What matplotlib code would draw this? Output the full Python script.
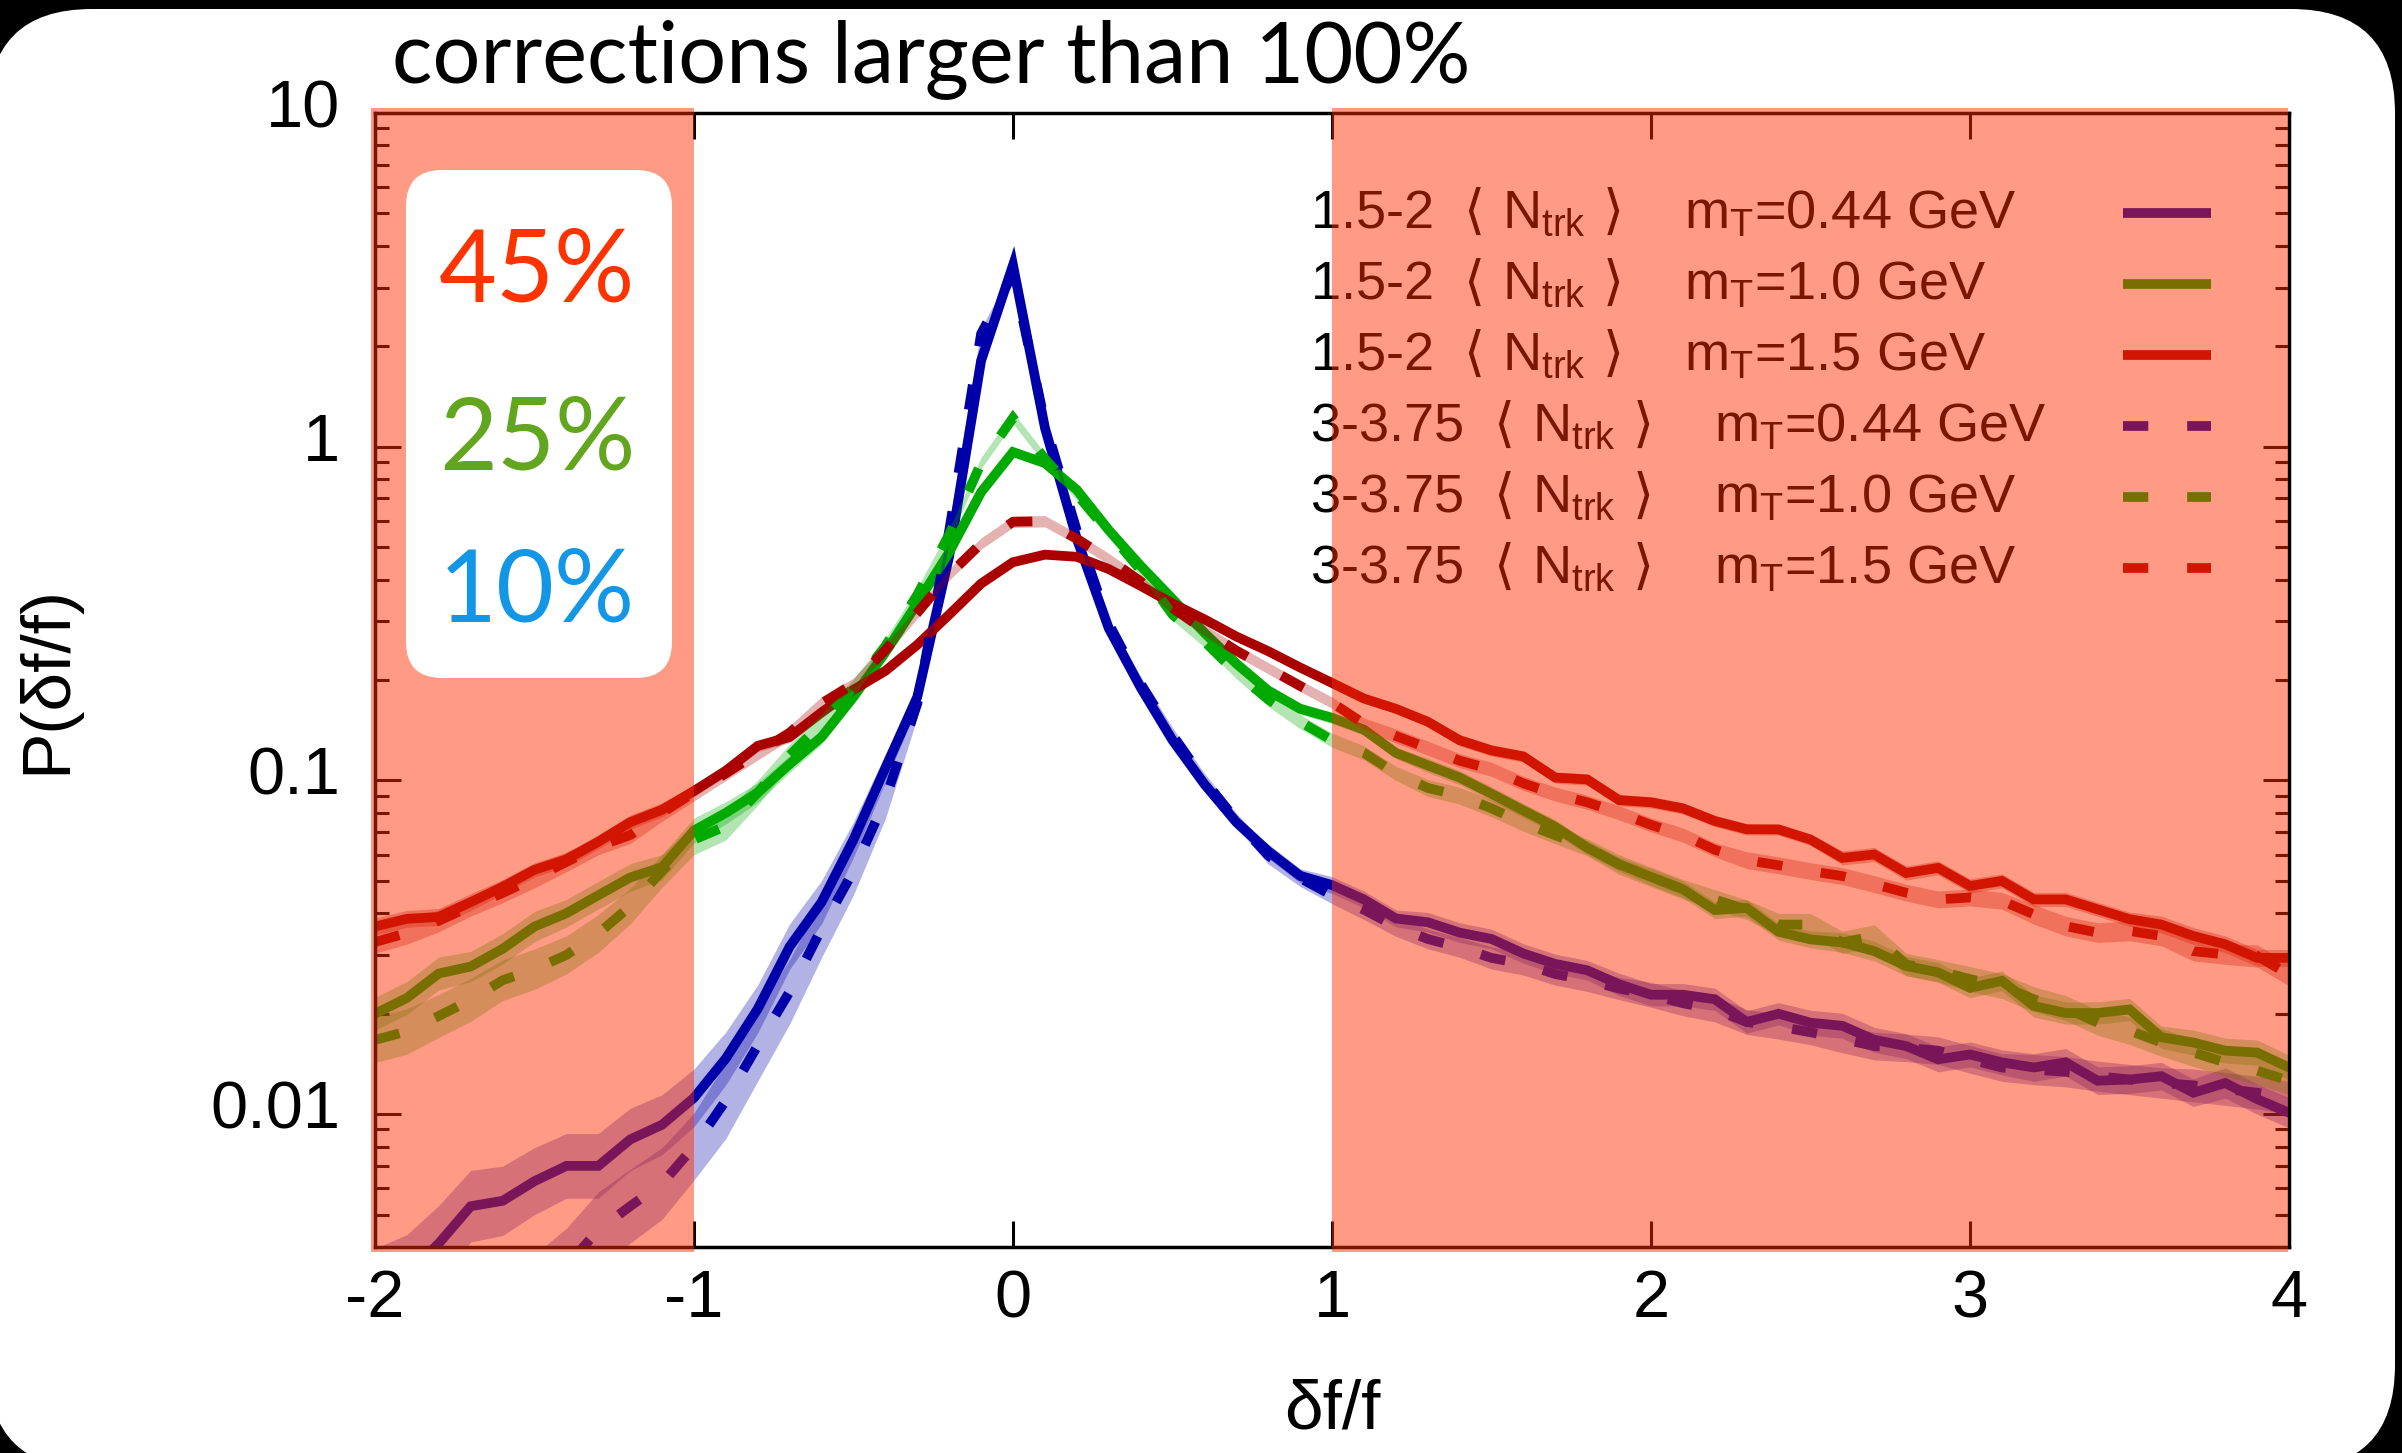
import numpy as np
import matplotlib
matplotlib.use("Agg")
import matplotlib.pyplot as plt
from matplotlib.patches import FancyBboxPatch, Rectangle
from matplotlib.lines import Line2D
from matplotlib.transforms import IdentityTransform, ScaledTranslation
from matplotlib.ticker import FixedLocator, FixedFormatter, LogLocator, NullFormatter

plt.rcParams["font.family"] = ["Liberation Sans", "DejaVu Sans"]
plt.rcParams["mathtext.default"] = "regular"
plt.rcParams["axes.unicode_minus"] = False

# bin centres of delta f / f
dff = np.round(np.linspace(-2.0, 4.0, 61), 2)

# ---- P(df/f), 1.5-2 <N_trk> ----
low_044 = [0.0030, 0.0033, 0.0041, 0.0053, 0.0055, 0.0063, 0.0070, 0.0070, 0.0084, 0.0093,
           0.0112, 0.0147, 0.0207, 0.0318, 0.0432, 0.0665, 0.109, 0.178, 0.47, 1.81,
           3.5, 1.14, 0.53, 0.286, 0.19, 0.132, 0.0975, 0.075, 0.0614, 0.0518,
           0.0486, 0.044, 0.0386, 0.0376, 0.035, 0.0335, 0.0303, 0.0282, 0.027, 0.0245,
           0.0228, 0.0228, 0.0221, 0.0189, 0.0200, 0.0188, 0.0184, 0.0167, 0.0160, 0.0146,
           0.0151, 0.0143, 0.0138, 0.0143, 0.0126, 0.0127, 0.0130, 0.0116, 0.0124, 0.0111,
           0.0101]
low_100 = [0.0200, 0.0223, 0.0264, 0.0277, 0.0313, 0.0365, 0.0400, 0.0453, 0.0512, 0.0550,
           0.0708, 0.0800, 0.0920, 0.112, 0.135, 0.178, 0.242, 0.34, 0.483, 0.731,
           0.964, 0.893, 0.743, 0.563, 0.44, 0.35, 0.277, 0.224, 0.186, 0.164,
           0.154, 0.142, 0.121, 0.111, 0.102, 0.0912, 0.0813, 0.0726, 0.0629, 0.0561,
           0.0514, 0.0472, 0.0409, 0.0415, 0.0352, 0.0334, 0.0327, 0.0308, 0.0278, 0.0266,
           0.0239, 0.0251, 0.0211, 0.0201, 0.0201, 0.0206, 0.0170, 0.0164, 0.0155, 0.0153,
           0.0138]
low_150 = [0.0365, 0.0385, 0.0390, 0.0432, 0.0480, 0.0540, 0.0580, 0.0655, 0.0750, 0.0817,
           0.0930, 0.107, 0.127, 0.135, 0.160, 0.187, 0.213, 0.255, 0.314, 0.389,
           0.451, 0.475, 0.468, 0.430, 0.383, 0.339, 0.304, 0.270, 0.244, 0.218,
           0.196, 0.176, 0.164, 0.150, 0.132, 0.123, 0.118, 0.102, 0.1007, 0.0873,
           0.0860, 0.0825, 0.0756, 0.0714, 0.0713, 0.0665, 0.0586, 0.0600, 0.0528, 0.0547,
           0.0483, 0.0500, 0.0440, 0.0440, 0.0411, 0.0384, 0.0370, 0.0342, 0.0323, 0.0294,
           0.0294]

# ---- P(df/f), 3-3.75 <N_trk> ----
high_044 = [0.0012, 0.0014, 0.0017, 0.0020, 0.0024, 0.0029, 0.0035, 0.0045, 0.0053, 0.0062,
            0.0080, 0.0110, 0.0161, 0.0233, 0.036, 0.0536, 0.0877, 0.17, 0.56, 2.18,
            3.3, 1.18, 0.56, 0.295, 0.195, 0.137, 0.100, 0.076, 0.0596, 0.051,
            0.0453, 0.041, 0.0365, 0.0335, 0.0316, 0.0294, 0.0282, 0.0263, 0.0252, 0.0238,
            0.0228, 0.0215, 0.0206, 0.0189, 0.0183, 0.0176, 0.0168, 0.0160, 0.0158, 0.0155,
            0.0146, 0.0138, 0.0136, 0.0134, 0.0130, 0.0127, 0.0124, 0.0122, 0.0119, 0.0116,
            0.0112]
high_100 = [0.0167, 0.0177, 0.0197, 0.0220, 0.0252, 0.0272, 0.0300, 0.0348, 0.0420, 0.0536,
            0.0665, 0.0730, 0.0920, 0.119, 0.148, 0.190, 0.253, 0.36, 0.546, 0.893,
            1.22, 0.92, 0.72, 0.554, 0.427, 0.314, 0.261, 0.210, 0.175, 0.150,
            0.132, 0.121, 0.105, 0.095, 0.090, 0.0825, 0.0746, 0.0685, 0.063, 0.056,
            0.0514, 0.0472, 0.044, 0.041, 0.0370, 0.0370, 0.0327, 0.0342, 0.0281, 0.0269,
            0.0254, 0.0242, 0.0221, 0.0208, 0.0188, 0.0178, 0.0164, 0.0153, 0.0143, 0.0135,
            0.0126]
high_150 = [0.0328, 0.0349, 0.0380, 0.0420, 0.0460, 0.0510, 0.0570, 0.0635, 0.0686, 0.0800,
            0.0920, 0.105, 0.121, 0.139, 0.170, 0.195, 0.246, 0.318, 0.414, 0.513,
            0.596, 0.598, 0.530, 0.461, 0.395, 0.329, 0.282, 0.245, 0.217, 0.192,
            0.171, 0.148, 0.136, 0.125, 0.1146, 0.108, 0.098, 0.091, 0.086, 0.080,
            0.0736, 0.0686, 0.0620, 0.0577, 0.0557, 0.0535, 0.0517, 0.0489, 0.0461, 0.0440,
            0.0446, 0.0436, 0.0397, 0.0366, 0.0350, 0.0354, 0.0342, 0.0308, 0.0301, 0.0298,
            0.0262]

# ---- relative uncertainties (half width of the bands) ----
low_044_err = [0.32, 0.32, 0.30, 0.28, 0.27, 0.26, 0.25, 0.25, 0.24, 0.23,
               0.22, 0.20, 0.18, 0.17, 0.16, 0.13, 0.10, 0.07, 0.05, 0.04,
               0.03, 0.04, 0.04, 0.04, 0.04, 0.04, 0.05, 0.05, 0.05, 0.05,
               0.06, 0.06, 0.06, 0.07, 0.07, 0.07, 0.07, 0.07, 0.07, 0.08,
               0.08, 0.08, 0.08, 0.08, 0.08, 0.09, 0.09, 0.09, 0.09, 0.09,
               0.09, 0.09, 0.10, 0.10, 0.10, 0.10, 0.10, 0.10, 0.11, 0.11,
               0.11]
low_100_err = [0.12, 0.12, 0.12, 0.11, 0.11, 0.11, 0.10, 0.10, 0.10, 0.09,
               0.09, 0.08, 0.07, 0.06, 0.05, 0.05, 0.04, 0.04, 0.03, 0.03,
               0.03, 0.03, 0.03, 0.03, 0.03, 0.03, 0.03, 0.03, 0.04, 0.04,
               0.04, 0.04, 0.04, 0.05, 0.05, 0.05, 0.05, 0.05, 0.05, 0.05,
               0.06, 0.06, 0.06, 0.06, 0.06, 0.06, 0.07, 0.07, 0.07, 0.07,
               0.07, 0.07, 0.08, 0.08, 0.08, 0.08, 0.08, 0.09, 0.09, 0.09,
               0.09]
low_150_err = [0.06, 0.06, 0.06, 0.06, 0.05, 0.05, 0.05, 0.05, 0.05, 0.05,
               0.04, 0.04, 0.04, 0.04, 0.04, 0.03, 0.03, 0.03, 0.03, 0.03,
               0.03, 0.03, 0.03, 0.03, 0.03, 0.03, 0.03, 0.03, 0.03, 0.03,
               0.03, 0.03, 0.03, 0.03, 0.04, 0.04, 0.04, 0.04, 0.04, 0.04,
               0.04, 0.04, 0.04, 0.04, 0.04, 0.04, 0.05, 0.05, 0.05, 0.05,
               0.05, 0.05, 0.05, 0.05, 0.05, 0.05, 0.06, 0.06, 0.06, 0.06,
               0.06]
high_044_err = [0.35, 0.35, 0.34, 0.33, 0.32, 0.31, 0.30, 0.30, 0.29, 0.28,
                0.26, 0.30, 0.28, 0.25, 0.22, 0.18, 0.14, 0.10, 0.06, 0.04,
                0.03, 0.04, 0.04, 0.04, 0.05, 0.05, 0.05, 0.05, 0.06, 0.06,
                0.06, 0.07, 0.07, 0.07, 0.07, 0.08, 0.08, 0.08, 0.08, 0.08,
                0.09, 0.09, 0.09, 0.09, 0.09, 0.09, 0.10, 0.10, 0.10, 0.10,
                0.10, 0.10, 0.11, 0.11, 0.11, 0.11, 0.11, 0.12, 0.12, 0.12,
                0.12]
high_100_err = [0.17, 0.17, 0.16, 0.16, 0.15, 0.15, 0.14, 0.14, 0.13, 0.12,
                0.11, 0.10, 0.09, 0.08, 0.07, 0.06, 0.05, 0.05, 0.04, 0.04,
                0.04, 0.04, 0.04, 0.04, 0.04, 0.04, 0.04, 0.04, 0.05, 0.05,
                0.05, 0.05, 0.05, 0.06, 0.06, 0.06, 0.06, 0.06, 0.06, 0.07,
                0.07, 0.07, 0.07, 0.07, 0.08, 0.08, 0.08, 0.08, 0.08, 0.08,
                0.09, 0.09, 0.09, 0.09, 0.09, 0.10, 0.10, 0.10, 0.10, 0.10,
                0.10]
high_150_err = [0.08, 0.08, 0.08, 0.07, 0.07, 0.07, 0.07, 0.06, 0.06, 0.06,
                0.06, 0.05, 0.05, 0.05, 0.05, 0.04, 0.04, 0.04, 0.04, 0.04,
                0.04, 0.04, 0.04, 0.04, 0.04, 0.04, 0.04, 0.04, 0.04, 0.04,
                0.04, 0.04, 0.05, 0.05, 0.05, 0.05, 0.05, 0.05, 0.05, 0.05,
                0.05, 0.05, 0.05, 0.06, 0.06, 0.06, 0.06, 0.06, 0.06, 0.06,
                0.06, 0.06, 0.07, 0.07, 0.07, 0.07, 0.07, 0.07, 0.07, 0.08,
                0.08]

legend_labels = [
    r"1.5-2  $\left\langle\ N_{trk}\ \right\rangle$    m$_{T}$=0.44 GeV",
    r"1.5-2  $\left\langle\ N_{trk}\ \right\rangle$    m$_{T}$=1.0 GeV",
    r"1.5-2  $\left\langle\ N_{trk}\ \right\rangle$    m$_{T}$=1.5 GeV",
    r"3-3.75  $\left\langle\ N_{trk}\ \right\rangle$    m$_{T}$=0.44 GeV",
    r"3-3.75  $\left\langle\ N_{trk}\ \right\rangle$    m$_{T}$=1.0 GeV",
    r"3-3.75  $\left\langle\ N_{trk}\ \right\rangle$    m$_{T}$=1.5 GeV",
]
x_ticks = [-2, -1, 0, 1, 2, 3, 4]
x_ticklabels = ["-2", "-1", "0", "1", "2", "3", "4"]
y_ticks = [0.01, 0.1, 1, 10]
y_ticklabels = ["0.01", "0.1", "1", "10"]
flag_values = ["45%", "25%", "10%"]
flag_colors = ["#FF3300", "#62A51E", "#1496E6"]

BLUE, GREEN, DRED = "#0000AA", "#00AA00", "#AA0000"
LW = 7.0
DASH = (2.6, 4.0)

series = [
    (low_044, low_044_err, BLUE, False),
    (low_100, low_100_err, GREEN, False),
    (low_150, low_150_err, DRED, False),
    (high_044, high_044_err, BLUE, True),
    (high_100, high_100_err, GREEN, True),
    (high_150, high_150_err, DRED, True),
]

fig = plt.figure(figsize=(24.02, 14.53), dpi=100, facecolor="black")

# white rounded panel behind everything
panel = FancyBboxPatch((-12, -16), 2407, 1460,
                       boxstyle="round,pad=0,rounding_size=104",
                       transform=IdentityTransform(), facecolor="white",
                       edgecolor="none", zorder=-10)
fig.add_artist(panel)

ax = fig.add_axes([375 / 2402, 1 - 1247 / 1453, 1914 / 2402, 1134 / 1453])
ax.set_facecolor("white")
ax.set_yscale("log")
ax.set_xlim(-2, 4)
ax.set_ylim(0.004, 10)

for k, (vals, err, col, dashed) in enumerate(series):
    v = np.asarray(vals)
    e = np.asarray(err)
    z = 2 + 0.02 * k
    ax.fill_between(dff, v / (1 + e), v * (1 + e), color=col, alpha=0.3,
                    lw=0, zorder=z)
    ln, = ax.plot(dff, v, color=col, lw=LW, zorder=z + 0.01,
                  solid_joinstyle="miter", dash_joinstyle="miter",
                  dash_capstyle="butt")
    if dashed:
        ln.set_dashes(DASH)

# key
sample_px = [213, 284, 355, 426, 497, 568]
for k, lab in enumerate(legend_labels):
    yb = (1247 - (sample_px[k] + 15)) / 1134
    ys = (1247 - sample_px[k]) / 1134
    ax.text(0.4885, yb, lab, transform=ax.transAxes, fontsize=39,
            va="baseline", ha="left", color="black", zorder=3)
    _, _, col, dashed = series[k]
    sample = Line2D([0.9133, 0.9592], [ys, ys], transform=ax.transAxes,
                    color=col, lw=LW, zorder=3, solid_capstyle="butt",
                    dash_capstyle="butt")
    if dashed:
        sample.set_dashes(DASH)
    ax.add_line(sample)

# regions where the correction exceeds 100%
trans = ax.get_xaxis_transform()
for xa, xb in [(-2.012, -1.0), (1.0, 3.996)]:
    ax.add_patch(Rectangle((xa, -0.004), xb - xa, 1.008, transform=trans,
                           facecolor=(1.0, 45 / 255, 0.0), alpha=0.48,
                           lw=0, clip_on=False, zorder=5))

# fraction box
box = FancyBboxPatch((406, 775), 266, 508,
                     boxstyle="round,pad=0,rounding_size=36",
                     transform=IdentityTransform(), facecolor="white",
                     edgecolor="none", zorder=6, clip_on=False)
ax.add_artist(box)
for txt, col, yb in zip(flag_values, flag_colors, [0.8342, 0.6852, 0.5520]):
    ax.text(0.0846, yb, txt, transform=ax.transAxes, ha="center",
            va="baseline", fontsize=72, color=col, family="Lato",
            weight="normal", zorder=7)

fig.text(392 / 2402, 1 - 82 / 1453, "corrections larger than 100%",
         ha="left", va="baseline", fontsize=61, family="Lato",
         weight="normal", color="black")

# axes styling
for sp in ax.spines.values():
    sp.set_linewidth(2.5)
ax.xaxis.set_major_locator(FixedLocator(x_ticks))
ax.xaxis.set_major_formatter(FixedFormatter(x_ticklabels))
ax.xaxis.set_minor_locator(FixedLocator([]))
ax.yaxis.set_major_locator(FixedLocator(y_ticks))
ax.yaxis.set_major_formatter(FixedFormatter(y_ticklabels))
ax.yaxis.set_minor_locator(LogLocator(base=10, subs=np.arange(2, 10)))
ax.yaxis.set_minor_formatter(NullFormatter())
ax.tick_params(which="both", direction="in", top=True, right=True,
               width=2.2, color="black")
ax.tick_params(which="major", length=19, labelsize=48)
ax.tick_params(axis="x", which="major", pad=16)
ax.tick_params(axis="y", which="major", pad=25)
ax.tick_params(which="minor", length=10)

shift = ScaledTranslation(0, 0.10, fig.dpi_scale_trans)
for lbl in ax.yaxis.get_majorticklabels():
    lbl.set_transform(lbl.get_transform() + shift)

ax.set_xlabel("δf/f", fontsize=50)
ax.set_ylabel("P(δf/f)", fontsize=50)
ax.xaxis.set_label_coords(0.5, -0.144)
ax.xaxis.label.set_va("center")
ax.yaxis.set_label_coords(-0.171, 0.5)
ax.yaxis.label.set_va("center")

fig.savefig("out.png", dpi=100, facecolor=fig.get_facecolor())
